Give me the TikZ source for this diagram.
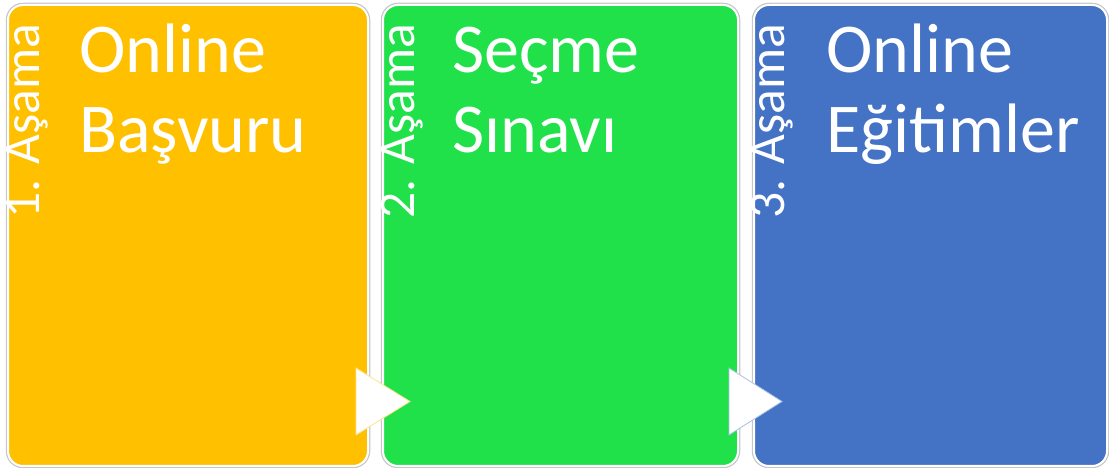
\documentclass[tikz,border=0pt]{standalone}
\usepackage{fontspec}
\setmainfont{Carlito}
\usetikzlibrary{positioning}
\definecolor{stageone}{HTML}{FFC000}
\definecolor{stagetwo}{HTML}{21E14B}
\definecolor{stagethree}{HTML}{4472C4}

\begin{document}
\begin{tikzpicture}[x=1pt, y=1pt,
    stagebox/.style={rectangle, rounded corners=15pt, inner sep=0pt, minimum height=461pt, draw=white, line width=2pt, preaction={draw=black!22, line width=4.5pt}},
    stagelabel/.style={rotate=90, anchor=base west, inner sep=0pt, text=white, font=\fontsize{51.5}{52}\selectfont},
    stagetitle/.style={anchor=base west, align=left, inner sep=0pt, text=white, font=\fontsize{70}{80}\selectfont},
    steparrow/.style={fill=white, line width=0.8pt, line join=miter}]
    \useasboundingbox (0, 0) rectangle (1109, 468);

    \node[stagebox, fill=stageone, minimum width=360pt] (box1) at (188, 232.5) {};
    \node[stagebox, fill=stagetwo, minimum width=355pt] (box2) at (560.5, 232.5) {};
    \node[stagebox, fill=stagethree, minimum width=353pt] (box3) at (930.5, 232.5) {};

    \node[stagelabel] (stage1) at ([xshift=32pt, yshift=248pt]box1.south west) {1. Aşama};
    \node[stagelabel] (stage2) at ([xshift=32pt, yshift=248pt]box2.south west) {2. Aşama};
    \node[stagelabel] (stage3) at ([xshift=31pt, yshift=248pt]box3.south west) {3. Aşama};

    \node[stagetitle] (title1) at ([xshift=72pt, yshift=-149pt]box1.north west) {Online\\Başvuru};
    \node[stagetitle] (title2) at ([xshift=70pt, yshift=-149pt]box2.north west) {Seçme\\Sınavı};
    \node[stagetitle] (title3) at ([xshift=73pt, yshift=-149pt]box3.north west) {Online\\Eğitimler};

    % white step arrows between the boxes
    \draw[steparrow, draw=stageone!45] ([xshift=-13pt, yshift=32pt]box1.south east) -- ([xshift=-13pt, yshift=99pt]box1.south east) -- ([xshift=41pt, yshift=65.5pt]box1.south east) -- cycle;
    \draw[steparrow, draw=stagethree!45] ([xshift=-10pt, yshift=32pt]box2.south east) -- ([xshift=-10pt, yshift=99pt]box2.south east) -- ([xshift=43pt, yshift=65.5pt]box2.south east) -- cycle;
\end{tikzpicture}
\end{document}
